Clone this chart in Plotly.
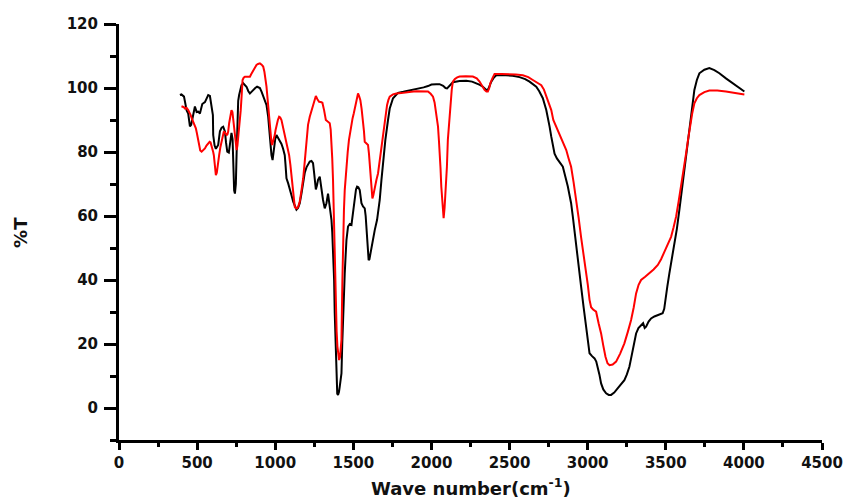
import plotly.graph_objects as go

# Black spectrum (wavenumber, %T)
black_x = [390, 400, 416, 422, 433, 443, 454, 462, 471, 480, 486, 497, 507, 518, 533, 550, 571, 582, 593, 601,
           603, 612, 620, 635, 646, 657, 667, 678, 685, 693, 703, 712, 720, 727, 731, 737, 742, 748, 753, 758,
           763, 769, 778, 784, 795, 806, 816, 828, 838, 848, 859, 872, 884, 893, 902, 913, 923, 934, 944, 955,
           961, 965, 970, 976, 983, 991, 1000, 1008, 1018, 1029, 1040, 1050, 1061, 1066, 1072, 1083, 1093, 1104, 1115, 1125,
           1136, 1146, 1157, 1168, 1179, 1189, 1200, 1210, 1221, 1232, 1242, 1250, 1260, 1267, 1274, 1285, 1296, 1306, 1317, 1328,
           1338, 1344, 1349, 1355, 1360, 1365, 1370, 1377, 1381, 1388, 1392, 1397, 1402, 1408, 1413, 1419, 1424, 1429, 1434, 1440,
           1445, 1451, 1456, 1466, 1477, 1488, 1498, 1509, 1517, 1524, 1532, 1541, 1552, 1562, 1573, 1579, 1584, 1590, 1598, 1603,
           1609, 1622, 1637, 1652, 1660, 1669, 1680, 1690, 1705, 1722, 1733, 1754, 1770, 1786, 1820, 1861, 1900, 1925, 1950, 1978,
           2000, 2031, 2052, 2075, 2090, 2100, 2115, 2137, 2180, 2223, 2260, 2287, 2310, 2329, 2345, 2355, 2365, 2383, 2400, 2415,
           2450, 2479, 2520, 2564, 2600, 2628, 2650, 2671, 2690, 2713, 2735, 2745, 2756, 2767, 2777, 2788, 2803, 2820, 2841, 2852,
           2863, 2873, 2884, 2894, 2905, 2915, 2926, 2942, 2958, 2974, 2990, 3001, 3012, 3028, 3044, 3055, 3065, 3075, 3086, 3100,
           3118, 3135, 3150, 3170, 3193, 3215, 3235, 3251, 3267, 3278, 3289, 3300, 3310, 3325, 3342, 3355, 3365, 3374, 3390, 3406,
           3427, 3449, 3465, 3480, 3490, 3497, 3510, 3523, 3539, 3555, 3571, 3587, 3603, 3619, 3635, 3651, 3667, 3683, 3699, 3715,
           3747, 3779, 3811, 3843, 3885, 3928, 3965, 4003]
black_y = [97.8, 98.0, 97.3, 95.7, 93.0, 92.0, 88.0, 88.5, 90.5, 93.0, 94.2, 92.5, 92.6, 92.0, 95.0, 95.6, 97.8, 97.5, 93.6, 91.5,
           85.3, 82.0, 81.0, 82.2, 86.5, 87.6, 87.9, 86.4, 83.0, 80.1, 79.8, 83.0, 86.0, 84.0, 74.0, 68.0, 67.0, 70.0, 80.0, 90.0,
           96.0, 97.8, 100.5, 100.9, 101.5, 100.8, 100.4, 99.0, 98.3, 98.8, 99.4, 100.0, 100.4, 100.3, 100.0, 98.8, 97.3, 96.0, 94.7, 91.0,
           87.0, 84.3, 81.0, 79.0, 77.5, 81.1, 84.0, 85.3, 84.5, 83.8, 82.5, 81.1, 79.0, 76.0, 71.8, 70.2, 68.7, 66.5, 64.5, 63.0,
           62.0, 62.5, 64.0, 67.0, 71.0, 73.5, 75.2, 76.2, 77.0, 77.2, 76.5, 73.0, 68.3, 69.5, 71.3, 72.3, 68.1, 65.0, 62.4, 64.0,
           67.0, 65.0, 62.9, 61.0, 58.8, 55.0, 50.4, 40.0, 29.6, 17.1, 7.7, 4.5, 4.1, 5.0, 6.7, 8.5, 10.8, 20.0, 29.6, 36.0,
           42.1, 48.0, 52.5, 56.7, 57.5, 57.2, 60.8, 66.0, 68.3, 69.2, 69.0, 68.1, 64.0, 63.0, 62.4, 60.0, 56.7, 50.4, 46.2, 46.5,
           48.3, 52.5, 55.6, 58.8, 61.5, 65.0, 71.3, 77.5, 83.8, 90.0, 93.6, 96.8, 97.8, 98.5, 98.8, 99.2, 99.5, 99.9, 100.2, 100.6,
           101.1, 101.2, 101.2, 100.7, 100.0, 99.9, 100.8, 101.8, 102.2, 102.3, 102.0, 101.5, 101.0, 100.4, 99.6, 99.2, 99.8, 102.0, 103.3, 104.0,
           104.1, 104.0, 103.8, 103.4, 102.8, 102.0, 101.3, 100.4, 99.0, 96.8, 93.1, 91.0, 88.0, 84.8, 82.5, 79.5, 78.0, 76.8, 75.4, 73.3,
           71.5, 69.2, 66.5, 64.0, 59.8, 56.0, 51.5, 45.0, 37.9, 31.5, 25.4, 21.0, 17.1, 16.2, 15.5, 14.5, 12.9, 10.5, 7.7, 5.8,
           4.6, 4.1, 4.1, 4.8, 6.2, 7.5, 8.7, 10.5, 12.9, 15.5, 18.1, 21.0, 23.3, 25.0, 25.9, 26.5, 25.0, 25.4, 27.0, 28.0,
           28.6, 29.1, 29.4, 29.6, 31.0, 33.8, 38.0, 42.1, 46.5, 50.4, 56.0, 61.9, 68.0, 74.4, 81.5, 87.9, 94.0, 99.4, 102.5, 104.6,
           105.7, 106.2, 105.6, 104.6, 103.0, 101.5, 100.2, 98.9]

# Red spectrum (wavenumber, %T)
red_x = [400, 415, 422, 432, 443, 450, 458, 466, 475, 484, 492, 498, 503, 509, 514, 520, 529, 539, 550, 560,
         571, 580, 586, 593, 599, 603, 607, 611, 614, 620, 626, 631, 636, 641, 649, 657, 664, 671, 680, 689,
         694, 699, 705, 710, 715, 720, 726, 731, 737, 742, 748, 753, 758, 763, 769, 774, 779, 784, 791, 798,
         806, 820, 838, 846, 855, 868, 880, 890, 902, 913, 923, 931, 938, 944, 949, 954, 959, 965, 970, 975,
         980, 988, 997, 1002, 1008, 1017, 1025, 1032, 1040, 1048, 1055, 1063, 1072, 1081, 1089, 1097, 1104, 1110, 1115, 1120,
         1125, 1132, 1140, 1148, 1157, 1168, 1179, 1189, 1200, 1210, 1221, 1230, 1238, 1249, 1260, 1270, 1281, 1292, 1302, 1313,
         1324, 1336, 1349, 1355, 1360, 1365, 1370, 1375, 1381, 1385, 1388, 1393, 1398, 1404, 1409, 1415, 1420, 1424, 1430, 1434,
         1440, 1445, 1450, 1456, 1464, 1472, 1480, 1488, 1495, 1503, 1511, 1520, 1525, 1530, 1537, 1545, 1553, 1562, 1568, 1573,
         1584, 1594, 1600, 1605, 1611, 1616, 1619, 1622, 1628, 1637, 1648, 1658, 1664, 1669, 1677, 1684, 1693, 1701, 1708, 1716,
         1724, 1733, 1754, 1775, 1807, 1839, 1871, 1903, 1940, 1978, 1995, 2010, 2020, 2027, 2035, 2042, 2048, 2052, 2058, 2063,
         2068, 2073, 2078, 2084, 2091, 2095, 2099, 2105, 2110, 2116, 2123, 2130, 2137, 2150, 2165, 2180, 2220, 2265, 2290, 2308,
         2325, 2340, 2352, 2361, 2370, 2377, 2390, 2404, 2450, 2500, 2540, 2585, 2620, 2649, 2675, 2692, 2703, 2720, 2740, 2752,
         2767, 2780, 2799, 2815, 2831, 2847, 2863, 2878, 2894, 2910, 2926, 2942, 2958, 2974, 2990, 3001, 3012, 3022, 3035, 3054,
         3070, 3086, 3100, 3114, 3127, 3140, 3160, 3182, 3208, 3235, 3257, 3278, 3295, 3310, 3326, 3342, 3368, 3395, 3422, 3449,
         3470, 3491, 3512, 3534, 3550, 3566, 3582, 3598, 3614, 3630, 3643, 3655, 3669, 3683, 3699, 3715, 3747, 3779, 3830, 3885,
         3945, 4003]
red_y = [94.3, 94.0, 93.6, 93.8, 93.1, 92.5, 91.6, 90.5, 89.5, 88.5, 87.4, 86.0, 84.8, 83.0, 81.7, 80.5, 80.1, 80.6, 81.1, 82.0,
         82.7, 83.2, 83.0, 82.0, 81.1, 80.0, 79.0, 76.0, 74.9, 72.8, 73.5, 74.9, 77.0, 79.0, 81.5, 83.2, 85.0, 86.4, 86.0, 85.3,
         85.5, 86.4, 89.0, 91.0, 92.5, 93.1, 92.5, 90.5, 86.5, 84.3, 82.0, 80.6, 82.0, 84.3, 87.0, 89.5, 93.0, 96.8, 102.5, 103.2,
         103.5, 103.5, 103.5, 104.3, 105.1, 106.3, 107.2, 107.5, 107.7, 107.3, 106.7, 105.0, 103.0, 100.5, 97.8, 94.5, 91.6, 88.2, 85.3, 83.5,
         82.2, 83.5, 85.3, 86.8, 88.4, 90.0, 91.0, 90.8, 90.0, 88.3, 86.4, 84.5, 82.7, 80.8, 79.0, 76.0, 72.8, 70.0, 67.6, 65.0,
         62.9, 62.5, 62.4, 63.0, 64.5, 68.0, 71.8, 77.0, 84.0, 88.5, 91.0, 92.6, 94.2, 96.0, 97.5, 96.5, 95.7, 95.6, 95.4, 93.0,
         90.0, 89.5, 89.0, 87.0, 83.8, 78.0, 71.3, 61.0, 50.4, 40.0, 29.6, 24.0, 19.2, 16.5, 15.0, 16.0, 18.5, 21.3, 40.0, 54.6,
         62.0, 68.1, 72.0, 75.4, 80.0, 83.8, 86.5, 89.0, 90.5, 92.1, 93.8, 95.2, 96.8, 98.3, 97.5, 96.2, 93.5, 90.0, 86.5, 83.2,
         82.7, 82.2, 79.5, 76.5, 74.0, 71.3, 68.0, 65.5, 66.5, 69.2, 71.3, 73.3, 75.5, 77.5, 80.0, 82.7, 86.5, 90.0, 92.5, 94.7,
         96.2, 97.3, 98.0, 98.3, 98.4, 98.5, 98.8, 99.0, 99.0, 98.9, 98.2, 97.3, 95.5, 93.1, 90.5, 87.9, 83.5, 80.6, 75.0, 69.2,
         65.0, 61.9, 59.3, 62.5, 67.1, 71.0, 75.4, 83.8, 87.0, 90.0, 96.2, 99.5, 102.0, 102.8, 103.3, 103.6, 103.7, 103.6, 103.0, 102.0,
         100.6, 99.4, 98.9, 98.9, 100.0, 101.5, 103.0, 104.4, 104.4, 104.4, 104.2, 104.0, 103.4, 102.5, 101.6, 101.2, 100.9, 99.5, 97.0, 95.0,
         93.1, 90.0, 87.9, 86.0, 84.5, 82.7, 80.6, 78.0, 75.4, 70.5, 65.5, 59.5, 53.3, 48.0, 43.1, 38.5, 33.8, 31.5, 30.8, 30.1,
         26.5, 23.3, 19.5, 16.0, 14.0, 13.4, 13.6, 14.5, 17.0, 20.2, 23.8, 27.5, 31.5, 35.8, 38.5, 40.0, 41.0, 42.1, 43.3, 44.7,
         46.5, 48.8, 51.0, 53.5, 56.5, 59.8, 64.5, 69.2, 74.5, 79.6, 84.0, 87.9, 92.0, 95.2, 96.8, 97.8, 98.7, 99.2, 99.2, 98.9,
         98.5, 98.0]

x_ticks = [0, 500, 1000, 1500, 2000, 2500, 3000, 3500, 4000, 4500]
y_ticks = [0, 20, 40, 60, 80, 100, 120]
x_title = "Wave number(cm<sup>-1</sup>)"
y_title = "%T"

fig = go.Figure()
fig.add_trace(go.Scatter(x=black_x, y=black_y, mode="lines",
                         line=dict(color="#000000", width=2), showlegend=False))
fig.add_trace(go.Scatter(x=red_x, y=red_y, mode="lines",
                         line=dict(color="#ff0000", width=2), showlegend=False))

tickfont = dict(family="DejaVu Sans", size=15, color="#111111", weight="bold")
titlefont = dict(family="DejaVu Sans", size=18, color="#111111", weight="bold")

# The page body has an 8px default margin, so the figure is sized to fit inside it.
fig.update_layout(
    width=843, height=492,
    margin=dict(l=111, r=29, t=16, b=60, autoexpand=False),
    plot_bgcolor="white", paper_bgcolor="white",
    xaxis=dict(
        range=[0, 4500], tickvals=x_ticks, ticktext=[str(v) for v in x_ticks],
        showgrid=False, zeroline=False, showline=True, linecolor="black", linewidth=3,
        ticks="outside", ticklen=7, tickwidth=3, tickcolor="black",
        minor=dict(dtick=250, tick0=0, ticks="outside", ticklen=4, tickwidth=3, tickcolor="black", showgrid=False),
        tickfont=tickfont, ticklabelstandoff=0, automargin=False,
    ),
    yaxis=dict(
        range=[-10, 120], tickvals=y_ticks, ticktext=[str(v) for v in y_ticks],
        showgrid=False, zeroline=False, showline=True, linecolor="black", linewidth=3,
        ticks="outside", ticklen=12, tickwidth=3, tickcolor="black",
        minor=dict(dtick=10, tick0=0, ticks="outside", ticklen=6, tickwidth=3, tickcolor="black", showgrid=False),
        tickfont=tickfont, ticklabelstandoff=3, automargin=False,
    ),
    annotations=[
        dict(text=x_title, xref="paper", yref="paper", x=0.5, y=-0.113,
             xanchor="center", yanchor="middle", showarrow=False, font=titlefont),
        dict(text=y_title, xref="paper", yref="paper", x=-0.141, y=0.5, textangle=-90,
             xanchor="center", yanchor="middle", showarrow=False,
             font=dict(family="DejaVu Sans", size=18, color="#111111", weight="bold")),
    ],
)

fig.write_html("out.html")
